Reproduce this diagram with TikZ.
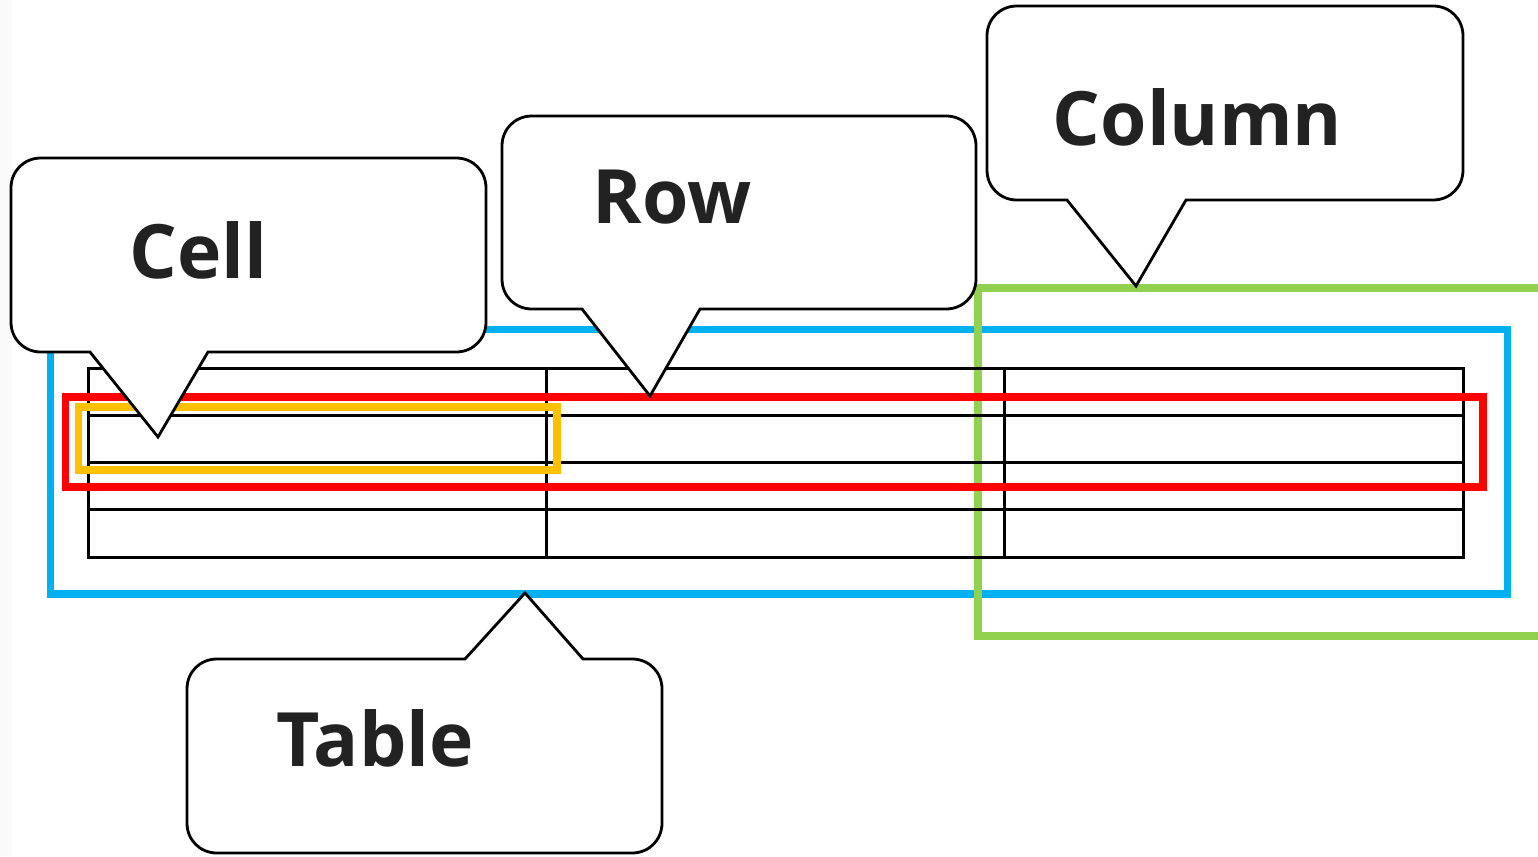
\documentclass[tikz,border=0pt]{standalone}
\usepackage{fontspec}
\newfontfamily\labelfont{Open Sans}
\definecolor{txt}{HTML}{222222}
\definecolor{tblue}{HTML}{00B0F0}
\definecolor{tred}{HTML}{FF0000}
\definecolor{tyellow}{HTML}{FFC000}
\definecolor{tgreen}{HTML}{92D050}
\definecolor{strip}{HTML}{FAFAFA}
\tikzset{
  grid line/.style={draw=black, line width=3pt},
  frame/.style={line width=7.3pt, line join=miter},
  callout/.style={draw=black, fill=white, line width=2.8pt, line join=miter},
  label/.style={font=\labelfont\bfseries\fontsize{75}{90}\selectfont, text=txt, anchor=base, inner sep=0pt}
}
\begin{document}
\begin{tikzpicture}[x=1pt,y=-1pt]
\useasboundingbox (0,0) rectangle (1538,856);
\fill[white] (0,0) rectangle (1538,856);
\fill[strip] (0,0) rectangle (12,856);
% blue table frame
\draw[frame, tblue] (50.5,329.5) rectangle (1507.5,594);
% green column frame (open to the right)
\draw[frame, tgreen] (1540,288) -- (978,288) -- (978,636) -- (1540,636);
% table grid
\draw[grid line] (88,368) rectangle (1463,557);
\foreach \yy in {415,462.5,509.5} \draw[grid line] (88,\yy) -- (1463,\yy);
\foreach \xx in {546,1004} \draw[grid line] (\xx,368) -- (\xx,557);
% cell and row frames
\draw[frame, tyellow] (78.5,407) rectangle (557,470);
\draw[frame, tred] (65.5,397) rectangle (1483,487);
% callouts
\path[callout] (90,352) -- (158,437) -- (208,352) -- (456,352)
  .. controls (473,352) and (486,339) .. (486,322) -- (486,188)
  .. controls (486,171) and (473,158) .. (456,158) -- (41,158)
  .. controls (24,158) and (11,171) .. (11,188) -- (11,322)
  .. controls (11,339) and (24,352) .. (41,352) -- cycle;
\path[callout] (582,309) -- (650,396) -- (700,309) -- (946,309)
  .. controls (963,309) and (976,296) .. (976,279) -- (976,146)
  .. controls (976,129) and (963,116) .. (946,116) -- (532,116)
  .. controls (515,116) and (502,129) .. (502,146) -- (502,279)
  .. controls (502,296) and (515,309) .. (532,309) -- cycle;
\path[callout] (1067,200) -- (1136,286) -- (1186,200) -- (1433,200)
  .. controls (1450,200) and (1463,187) .. (1463,170) -- (1463,36)
  .. controls (1463,19) and (1450,6) .. (1433,6) -- (1017,6)
  .. controls (1000,6) and (987,19) .. (987,36) -- (987,170)
  .. controls (987,187) and (1000,200) .. (1017,200) -- cycle;
\path[callout] (465,659) -- (525,593) -- (583,659) -- (632,659)
  .. controls (649,659) and (662,672) .. (662,689) -- (662,823)
  .. controls (662,840) and (649,853) .. (632,853) -- (217,853)
  .. controls (200,853) and (187,840) .. (187,823) -- (187,689)
  .. controls (187,672) and (200,659) .. (217,659) -- cycle;
% labels
\node[label] (cell) at (198.5,278) {Cell};
\node[label] (row) at (672,223) {Row};
\node[label] (column) at (1197.5,145) {Column};
\node[label] (table) at (375,766) {Table};
\end{tikzpicture}
\end{document}
